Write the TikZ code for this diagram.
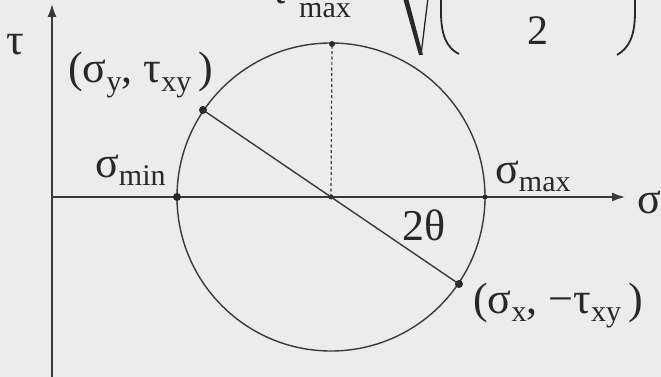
\documentclass[tikz,border=0pt]{standalone}
\usepackage{fontspec}
\setmainfont{Liberation Serif}
\usetikzlibrary{arrows.meta}
\definecolor{bg}{RGB}{236,236,236}
\definecolor{ink}{RGB}{58,58,58}
\definecolor{txt}{RGB}{40,40,40}
\newcommand\lsub[1]{\raisebox{-0.2em}{\fontsize{30}{31}\selectfont #1}}
\begin{document}
\begin{tikzpicture}[x=1pt,y=-1pt,
  axis/.style={draw=ink,line width=1.4pt},
  curve/.style={draw=ink,line width=1.4pt},
  dotbig/.style={circle,fill=txt,inner sep=0pt,minimum size=8pt},
  dotsmall/.style={circle,fill=txt,inner sep=0pt,minimum size=5pt},
  lbl/.style={text=txt,inner sep=0pt,font=\fontsize{44}{46}\selectfont},
  tip/.style={-{Latex[length=13pt,width=9pt]}}]
\useasboundingbox (0,0) rectangle (661,377);
\fill[bg] (0,0) rectangle (661,377);
\clip (0,0) rectangle (661,377);
% axes
\coordinate (ybot) at (52,380);
\coordinate (ytop) at (52,4);
\coordinate (xbeg) at (52,197);
\coordinate (xend) at (625,197);
\draw[axis,tip] (ybot) -- (ytop);
\draw[axis,tip] (xbeg) -- (xend);
% circle
\coordinate (C) at (331,197);
\draw[curve] (C) circle[radius=154pt];
\node[dotbig] (smin) at (177,197) {};
\node[dotsmall] (c) at (331,197) {};
\node[dotsmall] (smax) at (485,197) {};
\node[dotsmall,minimum size=6pt] (top) at (332,44) {};
\node[dotbig] (A) at (203,110) {};
\node[dotbig] (B) at (459,284) {};
\draw[curve] (A.center) -- (B.center);
\draw[ink,line width=1.2pt,dash pattern=on 3pt off 2.5pt] (c.center) -- (top.center);
% labels
\node[lbl,anchor=base west] (tau) at (6,55) {τ};
\node[lbl,anchor=base west] (sig) at (637,213) {σ};
\node[lbl,anchor=base west] (lA) at (68,83) {(σ\lsub{y}, τ\lsub{xy}\,)};
\node[lbl,anchor=base west] (lmin) at (95,177) {σ\lsub{min}};
\node[lbl,anchor=base west] (lmax) at (495,183) {σ\lsub{max}};
\node[lbl,anchor=base west] (l2t) at (402,240) {2θ};
\node[lbl,anchor=base west] (lB) at (473,313) {(σ\lsub{x}, −τ\lsub{xy}\,)};
% formula at top (clipped, as in the reference)
\node[lbl,anchor=base west] (ftau) at (270,4) {τ};
\node[text=txt,inner sep=0pt,anchor=base west,font=\fontsize{30}{31}\selectfont] (fmax) at (299,18) {max};
\node[text=txt,inner sep=0pt,anchor=base,font=\fontsize{42}{44}\selectfont] (ftwo) at (538,45) {2};
\fill[txt] (403,-2) -- (408,-2) -- (423,55) -- (419,55) -- cycle;
\draw[txt,line width=1.3pt] (421,55) -- (428,-2);
\draw[txt,line width=1.8pt] (441,-5) -- (441,12) .. controls (441,36) and (447,48) .. (459,54);
\draw[txt,line width=1.8pt] (635,-5) -- (635,12) .. controls (635,36) and (629,48) .. (617,55);
\end{tikzpicture}
\end{document}
